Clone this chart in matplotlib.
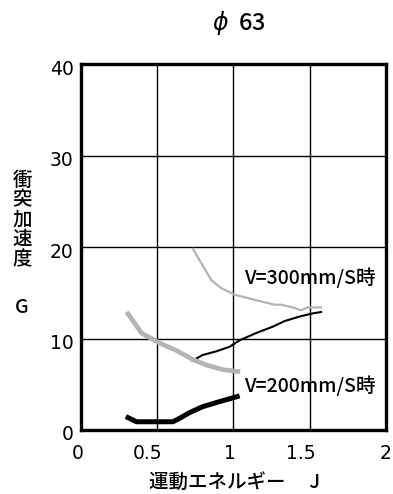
import matplotlib.pyplot as plt
from matplotlib.transforms import ScaledTranslation

plt.rcParams['font.family'] = ['Noto Sans CJK JP', 'DejaVu Sans']
plt.rcParams['font.weight'] = 'medium'

# V=300mm/S (upper pair)
v300_hi_x = [0.736, 0.856, 0.921, 1.008, 1.172, 1.270, 1.314, 1.39, 1.444, 1.488, 1.575]
v300_hi_y = [19.8, 16.4, 15.5, 14.8, 14.1, 13.7, 13.7, 13.4, 13.1, 13.4, 13.4]
v300_lo_x = [0.732, 0.80, 0.889, 0.976, 1.041, 1.150, 1.259, 1.335, 1.433, 1.520, 1.575]
v300_lo_y = [7.57, 8.2, 8.6, 9.1, 9.8, 10.6, 11.3, 11.9, 12.4, 12.75, 12.9]

# V=200mm/S (lower pair)
v200_hi_x = [0.311, 0.399, 0.518, 0.627, 0.736, 0.824, 0.932, 1.03]
v200_hi_y = [12.7, 10.6, 9.5, 8.7, 7.7, 7.1, 6.6, 6.4]
v200_lo_x = [0.311, 0.366, 0.605, 0.649, 0.714, 0.80, 0.91, 1.026]
v200_lo_y = [1.35, 0.9, 0.9, 1.28, 1.9, 2.55, 3.1, 3.65]

x_ticks = [0, 0.5, 1, 1.5, 2]
x_labels = ['0', '0.5', '1', '1.5', '2']
y_ticks = [0, 10, 20, 30, 40]

fig = plt.figure(figsize=(3.93, 4.94), dpi=100)
ax = fig.add_axes([0.205, 0.1296, 0.777, 0.7404])

ax.plot(v300_hi_x, v300_hi_y, color='#b4b4b4', lw=1.6)
ax.plot(v300_lo_x, v300_lo_y, color='black', lw=1.5)
ax.plot(v200_hi_x, v200_hi_y, color='#b4b4b4', lw=3.4)
ax.plot(v200_lo_x, v200_lo_y, color='black', lw=3.6)

ax.set_xlim(0, 2)
ax.set_ylim(0, 40)
ax.set_xticks(x_ticks)
ax.set_xticklabels(x_labels, family='DejaVu Sans', fontsize=13.5)
ax.set_yticks(y_ticks)
ax.set_yticklabels([str(v) for v in y_ticks], family='DejaVu Sans', fontsize=13.5)
ax.grid(True, color='black', lw=1.0)
for s in ax.spines.values():
    s.set_linewidth(2.4)
ax.tick_params(length=0, width=1)
ax.tick_params(axis='x', pad=10)
ax.tick_params(axis='y', pad=5)

# nudge tick labels to sit like the reference
for lab in ax.get_yticklabels():
    lab.set_transform(lab.get_transform() + ScaledTranslation(0, -3 / 100, fig.dpi_scale_trans))
x_shift = [-3, -9, -3, -9, 0]
for lab, dx in zip(ax.get_xticklabels(), x_shift):
    lab.set_transform(lab.get_transform() + ScaledTranslation(dx / 100, 0, fig.dpi_scale_trans))

ax.text(1.07, 16.6, 'V=300mm/S時', fontsize=14, ha='left', va='center')
ax.text(1.07, 4.8, 'V=200mm/S時', fontsize=14, ha='left', va='center')

fig.text(239 / 393, 1 - 23 / 494, r'$\phi$  63', fontsize=17, ha='center', va='center')
fig.text(22 / 393, 1 - 220 / 494, '衝\n突\n加\n速\n度', fontsize=14,
         ha='center', va='center', linespacing=1.05)
fig.text(22 / 393, 1 - 307 / 494, 'G', fontsize=14, ha='center', va='center')
fig.text(149 / 393, 1 - 482 / 494, '運動エネルギー　 J', fontsize=14,
         ha='left', va='center')

fig.savefig('out.png', dpi=100)
